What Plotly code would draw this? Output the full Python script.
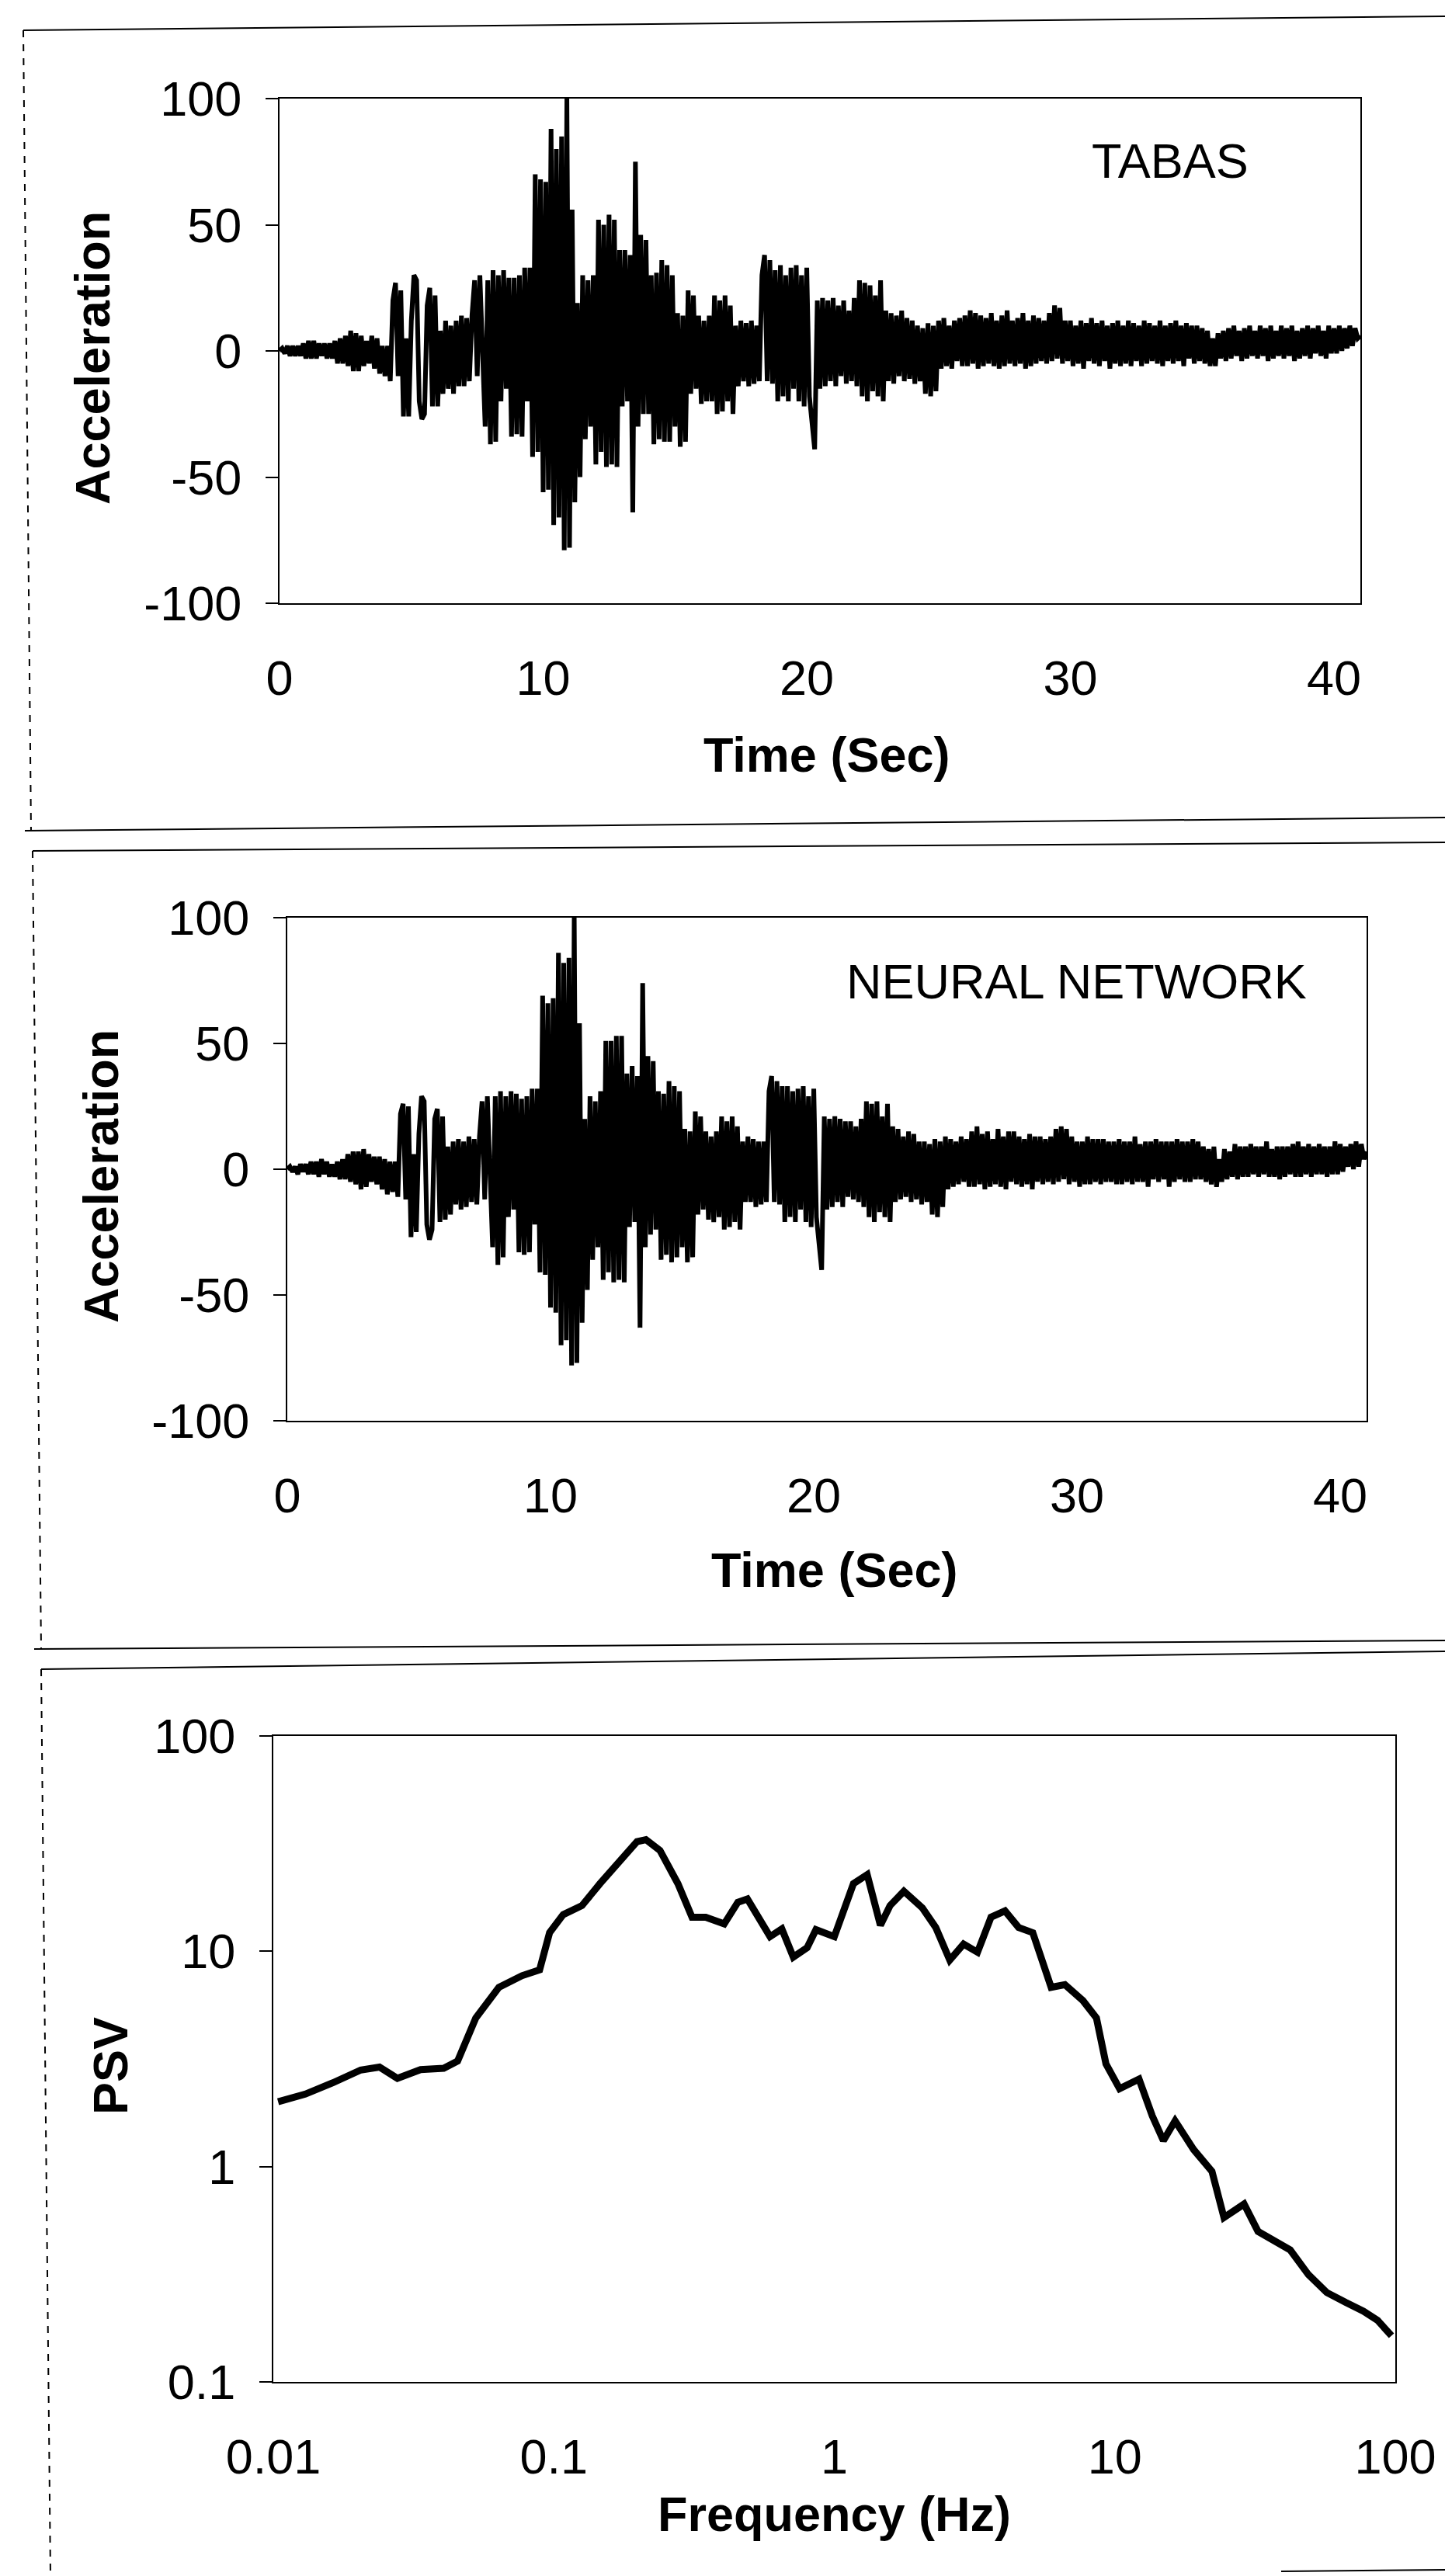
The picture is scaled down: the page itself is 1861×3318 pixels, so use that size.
import plotly.graph_objects as go

# ---------------- data ----------------
DT = 0.1  # sampling step of the digitised records (s)

tabas_acc = [
    0, 1, -1, 2, -2, 2, -2, 2, -2, 3,
    -3, 4, -3, 4, -3, 3, -2, 3, -3, 3,
    -3, 4, -5, 5, -5, 6, -6, 8, -8, 7,
    -8, 6, -6, 4, -5, 6, -7, 5, -9, 2,
    -10, 2, -12, 20, 27, -10, 24, -26, 5, -26,
    12, 30, 28, -20, -27, -25, 18, 25, -22, 22,
    -22, 8, -17, 12, -15, 10, -17, 12, -14, 14,
    -14, 13, -12, 14, 28, -10, 30, -5, -30, 28,
    -37, 32, -36, 30, -20, 32, -15, 29, -34, 29,
    -33, 30, -34, 33, -20, 33, -42, 70, -40, 68,
    -56, 67, -55, 88, -69, 80, -66, 85, -79, 100,
    -78, 56, -60, 19, -50, 30, -35, 28, -30, 30,
    -45, 52, -40, 50, -46, 54, -45, 52, -46, 40,
    -22, 40, -20, 38, -64, 75, -30, 46, -25, 44,
    -25, 30, -37, 31, -35, 36, -36, 34, -36, 30,
    -30, 15, -38, 14, -36, 24, -17, 22, -15, 14,
    -21, 12, -20, 14, -20, 22, -25, 20, -24, 22,
    -20, 18, -25, 10, -14, 12, -12, 11, -14, 12,
    -13, 10, -12, 30, 38, -12, 36, -13, 32, -20,
    34, -18, 30, -20, 33, -15, 34, -20, 30, -22,
    33, -18, -30, -39, 20, -15, 21, -14, 20, -12,
    21, -14, 18, -10, 20, -13, 16, -12, 21, -14,
    28, -18, 27, -20, 26, -16, 22, -18, 28, -20,
    16, -12, 15, -13, 14, -10, 16, -12, 13, -11,
    12, -13, 10, -12, 9, -17, 11, -18, 10, -16,
    12, -7, 13, -6, 10, -7, 12, -4, 13, -6,
    14, -6, 16, -5, 15, -7, 14, -6, 13, -5,
    15, -6, 12, -7, 14, -6, 16, -5, 12, -6,
    13, -5, 15, -7, 12, -6, 14, -5, 13, -4,
    12, -5, 15, -4, 18, -3, 17, -5, 12, -4,
    12, -6, 10, -5, 12, -7, 11, -4, 13, -5,
    11, -6, 12, -4, 10, -7, 11, -5, 12, -6,
    10, -5, 12, -6, 11, -4, 10, -6, 12, -5,
    11, -4, 10, -5, 12, -6, 10, -4, 11, -5,
    12, -4, 10, -6, 11, -3, 10, -5, 10, -4,
    9, -5, 8, -6, 5, -6, 7, -3, 8, -4,
    9, -3, 10, -2, 8, -4, 9, -3, 10, -2,
    8, -3, 10, -2, 9, -4, 10, -3, 8, -2,
    10, -3, 9, -2, 10, -4, 8, -3, 9, -2,
    10, -3, 9, -1, 10, -2, 8, -3, 10, -1,
    9, -1, 10, 0, 9, 1, 10, 2, 9, 5,
    6,
]

nn_acc = [
    0, 1, -1, 1, -2, 2, -1, 2, -2, 3,
    -2, 3, -3, 4, -2, 3, -3, 2, -3, 3,
    -4, 4, -4, 6, -5, 7, -6, 7, -8, 8,
    -7, 6, -5, 5, -6, 5, -8, 4, -10, 3,
    -9, 3, -11, 22, 26, -12, 25, -27, 6, -25,
    14, 29, 27, -22, -28, -24, 20, 24, -21, 21,
    -20, 9, -18, 11, -14, 12, -16, 11, -15, 13,
    -13, 12, -14, 13, 27, -12, 29, -6, -31, 29,
    -38, 31, -35, 29, -19, 31, -16, 30, -33, 28,
    -34, 29, -33, 32, -22, 32, -41, 69, -42, 66,
    -55, 68, -57, 86, -70, 82, -68, 84, -78, 100,
    -77, 58, -61, 20, -48, 29, -36, 27, -31, 31,
    -44, 51, -41, 51, -45, 53, -44, 53, -45, 38,
    -23, 41, -21, 37, -63, 74, -31, 45, -26, 43,
    -24, 31, -36, 30, -34, 35, -37, 33, -35, 31,
    -31, 16, -37, 15, -35, 23, -18, 21, -16, 15,
    -20, 13, -21, 15, -19, 21, -24, 19, -23, 21,
    -21, 17, -24, 11, -13, 13, -13, 12, -15, 11,
    -14, 11, -13, 31, 37, -13, 35, -14, 33, -21,
    33, -19, 31, -21, 32, -16, 33, -21, 29, -23,
    32, -19, -31, -40, 21, -16, 20, -15, 21, -13,
    20, -15, 19, -11, 19, -12, 17, -13, 20, -15,
    27, -19, 26, -21, 27, -17, 21, -19, 26, -21,
    17, -13, 16, -12, 13, -11, 15, -13, 14, -12,
    11, -14, 11, -13, 10, -18, 12, -19, 11, -15,
    13, -8, 12, -7, 11, -6, 13, -5, 12, -7,
    15, -7, 17, -6, 14, -8, 15, -7, 12, -6,
    16, -7, 13, -8, 15, -5, 15, -6, 13, -7,
    12, -6, 14, -8, 13, -5, 13, -6, 12, -5,
    13, -6, 16, -5, 17, -4, 16, -6, 13, -5,
    11, -7, 11, -6, 13, -6, 12, -5, 12, -6,
    12, -5, 11, -5, 11, -6, 12, -6, 11, -5,
    11, -6, 13, -5, 10, -5, 11, -7, 11, -4,
    12, -5, 11, -4, 11, -7, 11, -5, 12, -4,
    11, -5, 11, -5, 12, -4, 11, -4, 9, -5,
    8, -6, 9, -7, 4, -5, 8, -4, 7, -3,
    10, -4, 9, -3, 9, -3, 10, -2, 9, -3,
    9, -2, 11, -3, 8, -3, 9, -4, 9, -3,
    9, -2, 10, -3, 11, -3, 9, -2, 10, -3,
    9, -2, 10, -2, 9, -3, 9, -2, 11, -2,
    10, -1, 9, 1, 10, 0, 11, 1, 10, 4,
    7,
]

psv_freq = [0.0104, 0.013, 0.0163, 0.0205, 0.0239, 0.0277, 0.0335, 0.0405, 0.0454,
            0.0527, 0.0637, 0.077, 0.089, 0.0966, 0.108, 0.126, 0.146, 0.17, 0.198,
            0.213, 0.239, 0.277, 0.311, 0.348, 0.405, 0.453, 0.49, 0.59, 0.65, 0.714,
            0.8, 0.86, 1.0, 1.17, 1.31, 1.46, 1.58, 1.77, 2.06, 2.3, 2.58, 2.89, 3.24,
            3.62, 4.06, 4.54, 5.1, 5.93, 6.64, 7.7, 8.6, 9.3, 10.4, 12.2, 13.6, 14.9,
            16.4, 19.1, 22.2, 24.5, 28.9, 32.4, 37.8, 42.2, 49, 57, 66.5, 77, 86.5, 96.9]
psv_vals = [2.0, 2.17, 2.45, 2.81, 2.9, 2.57, 2.82, 2.86, 3.09,
            4.9, 6.8, 7.7, 8.2, 12.2, 14.8, 16.3, 20.6, 25.9, 32.3,
            33.0, 29.4, 20.6, 14.4, 14.4, 13.4, 16.9, 17.5, 11.7, 12.7, 9.4,
            10.4, 12.6, 11.7, 20.6, 22.7, 13.2, 16.3, 19.0, 15.9, 12.9, 9.1, 10.8, 9.9,
            14.4, 15.4, 12.9, 12.2, 6.8, 7.0, 5.9, 4.9, 3.0, 2.3, 2.55, 1.72, 1.32,
            1.63, 1.2, 0.95, 0.58, 0.67, 0.5, 0.45, 0.41, 0.315, 0.26, 0.234, 0.213, 0.193, 0.164]

acc_ticks = [-100, -50, 0, 50, 100]
acc_labels = ["-100", "-50", "0", "50", "100"]
time_ticks = [0, 10, 20, 30, 40]
time_labels = ["0", "10", "20", "30", "40"]
freq_ticks = [0.01, 0.1, 1, 10, 100]
freq_labels = ["0.01", "0.1", "1", "10", "100"]
psv_ticks = [0.1, 1, 10, 100]
psv_labels = ["0.1", "1", "10", "100"]

# ---------------- layout helpers ----------------
W, H = 1861, 3318
FONT = "Liberation Sans, Arial, sans-serif"
FS = 63


def px(x):
    return x / W


def py(y):
    return 1 - y / H


time_tabas = [round(i * DT, 1) for i in range(len(tabas_acc))]
time_nn = [round(i * DT, 1) for i in range(len(nn_acc))]

fig = go.Figure()
fig.add_trace(go.Scatter(x=time_tabas, y=tabas_acc, mode="lines",
                         line=dict(color="black", width=6), xaxis="x", yaxis="y",
                         showlegend=False))
fig.add_trace(go.Scatter(x=time_nn, y=nn_acc, mode="lines",
                         line=dict(color="black", width=6), xaxis="x2", yaxis="y2",
                         showlegend=False))
fig.add_trace(go.Scatter(x=psv_freq, y=psv_vals, mode="lines",
                         line=dict(color="black", width=9, shape="linear"),
                         xaxis="x3", yaxis="y3", showlegend=False))

common_axis = dict(showline=True, linecolor="black", linewidth=2, mirror=True,
                   showgrid=False, zeroline=False, automargin=False,
                   tickfont=dict(family=FONT, size=FS, color="black"))

xa = dict(common_axis, ticks="", ticklabelstandoff=40)
ya = dict(common_axis, ticks="outside", ticklen=16, tickwidth=2, tickcolor="black",
          ticklabelstandoff=18)

fig.update_layout(
    width=W, height=H,
    margin=dict(l=0, r=0, t=0, b=0, autoexpand=False),
    paper_bgcolor="white", plot_bgcolor="white",
    xaxis=dict(xa, domain=[px(360), px(1752)], range=[0, 41],
               tickvals=time_ticks, ticktext=time_labels, anchor="y"),
    yaxis=dict(ya, domain=[py(777), py(127)], range=[-100, 100],
               tickvals=acc_ticks, ticktext=acc_labels, anchor="x"),
    xaxis2=dict(xa, domain=[px(370), px(1760)], range=[0, 41],
                tickvals=time_ticks, ticktext=time_labels, anchor="y2"),
    yaxis2=dict(ya, domain=[py(1830), py(1182)], range=[-100, 100],
                tickvals=acc_ticks, ticktext=acc_labels, anchor="x2"),
    xaxis3=dict(xa, type="log", domain=[px(352), px(1797)], range=[-2, 2],
                tickvals=freq_ticks, ticktext=freq_labels, anchor="y3"),
    yaxis3=dict(ya, type="log", domain=[py(3068), py(2236)], range=[-1, 2],
                tickvals=psv_ticks, ticktext=psv_labels, anchor="x3"),
)

ann = []


def label(text, x, y, angle=0, bold=True):
    t = f"<b>{text}</b>" if bold else text
    ann.append(dict(text=t, x=px(x), y=py(y), xref="paper", yref="paper",
                    showarrow=False, textangle=angle, xanchor="center", yanchor="middle",
                    font=dict(family=FONT, size=FS, color="black")))


label("Acceleration", 119, 461, angle=-90)
label("Time (Sec)", 1064, 972)
label("TABAS", 1507, 207, bold=False)
label("Acceleration", 130, 1515, angle=-90)
label("Time (Sec)", 1074, 2022)
label("NEURAL NETWORK", 1386, 1264, bold=False)
label("PSV", 142, 2661, angle=-90)
label("Frequency (Hz)", 1074, 3238)
fig.update_layout(annotations=ann)

# panel frames of the scanned page (slightly skewed)
shapes = []


def seg(x0, y0, x1, y1, dash="solid"):
    shapes.append(dict(type="line", xref="paper", yref="paper",
                       x0=px(x0), y0=py(y0), x1=px(x1), y1=py(y1),
                       line=dict(color="black", width=2, dash=dash)))


# panel 1
seg(30, 39, 1861, 21)
seg(32, 1070, 1861, 1053)
seg(30, 39, 40, 1070, dash="dash")
# panel 2
seg(42, 1096, 1861, 1085)
seg(44, 2124, 1861, 2113)
seg(42, 1096, 53, 2124, dash="dash")
# panel 3
seg(53, 2150, 1861, 2127)
seg(1650, 3312, 1861, 3310)
seg(53, 2150, 65, 3318, dash="dash")
fig.update_layout(shapes=shapes)

fig.write_html("out.html", config={"displayModeBar": False},
               post_script="document.body.style.margin='0';")
